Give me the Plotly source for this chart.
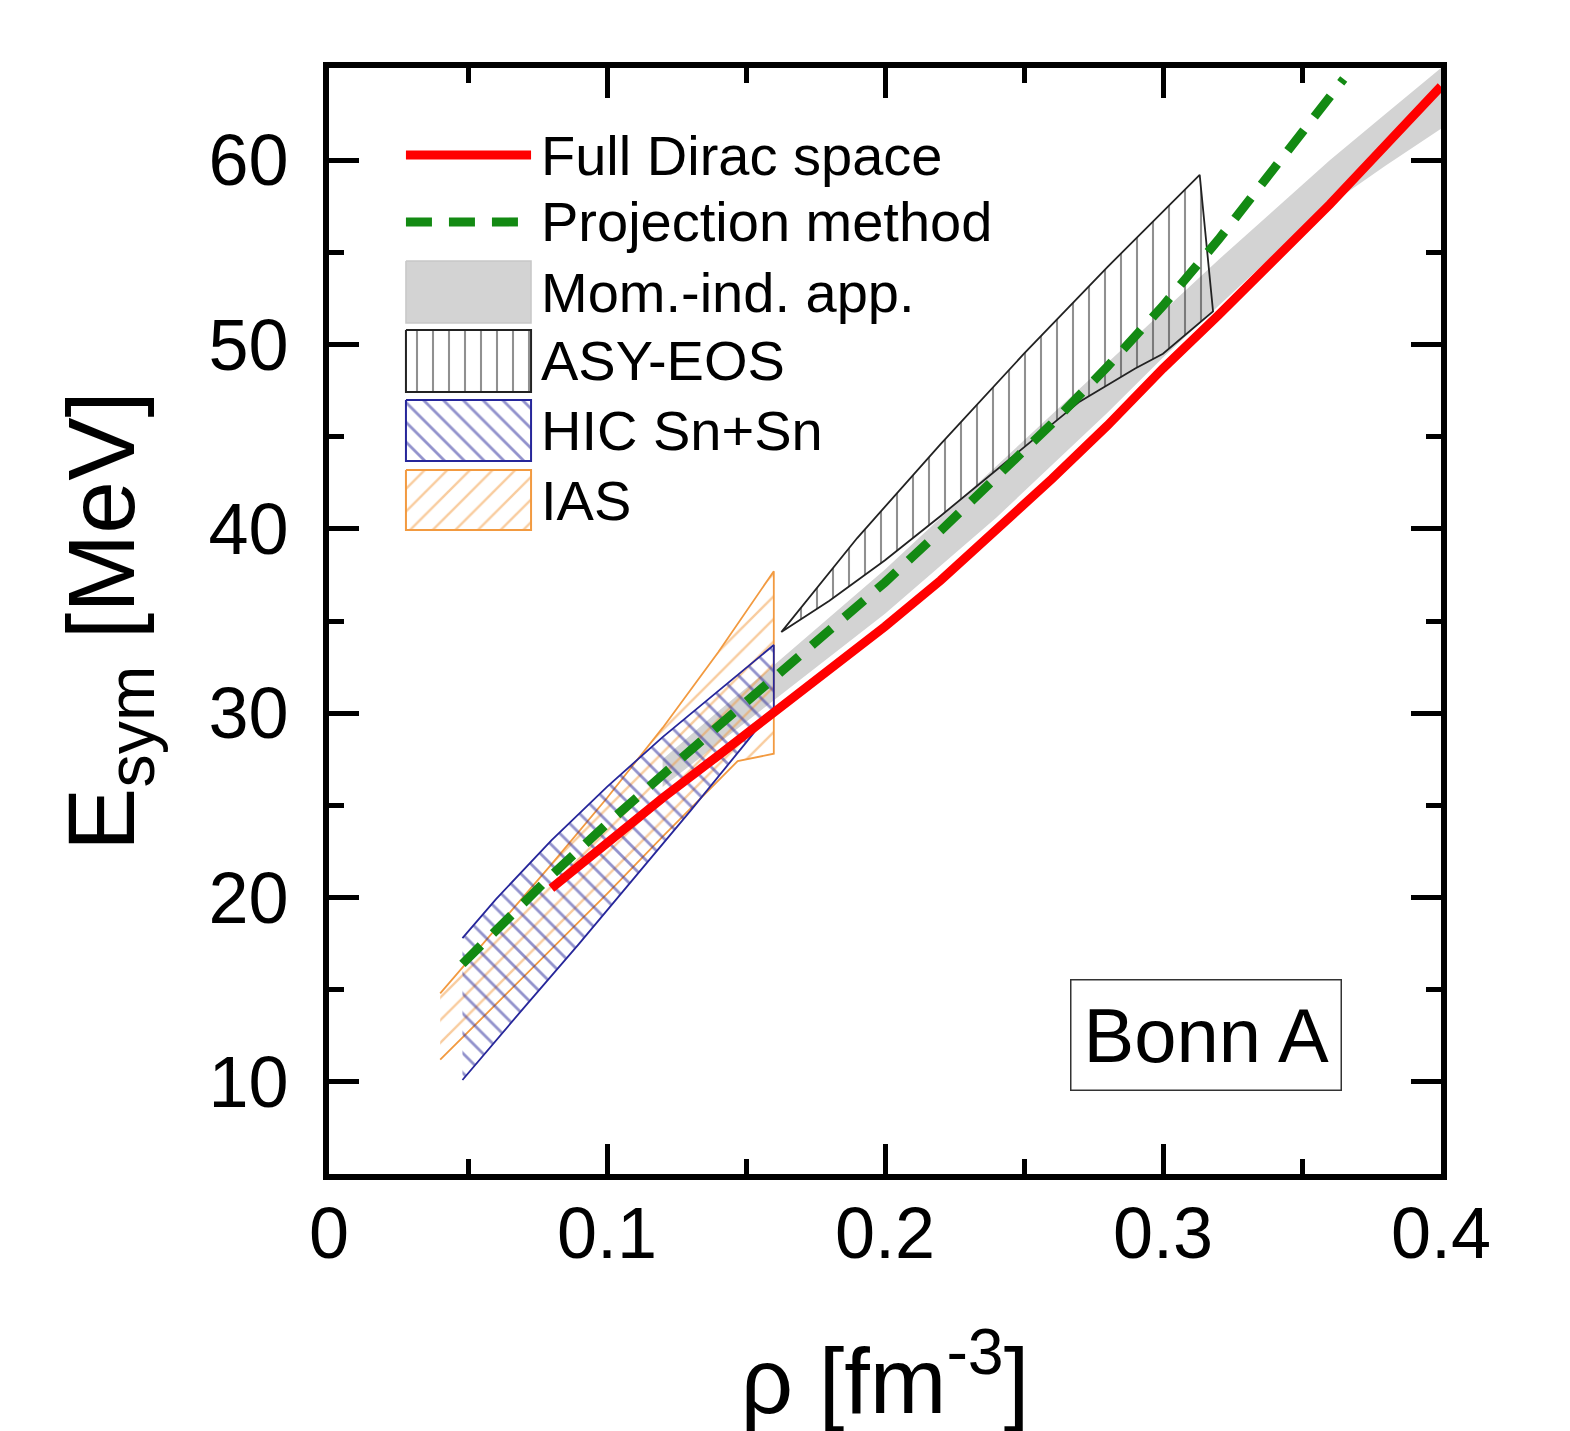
import plotly.graph_objects as go

FONT = "Liberation Sans, Arial, sans-serif"

# Full Dirac space (red solid)
rho_full = [0.08, 0.10, 0.12, 0.14, 0.16, 0.18, 0.20, 0.22, 0.24, 0.26, 0.28,
            0.30, 0.32, 0.34, 0.36, 0.38, 0.40]
esym_full = [20.5, 23.0, 25.4, 27.7, 30.0, 32.3, 34.7, 37.2, 39.9, 42.7, 45.6,
             48.7, 51.6, 54.6, 57.6, 60.8, 64.0]

# Projection method (green dashed)
rho_proj = [0.048, 0.06, 0.08, 0.10, 0.12, 0.14, 0.16, 0.18, 0.20, 0.22, 0.24,
            0.26, 0.28, 0.30, 0.32, 0.34, 0.36, 0.365]
esym_proj = [16.4, 18.2, 21.2, 24.0, 26.7, 29.3, 31.9, 34.5, 37.1, 39.9, 42.8,
             45.7, 48.8, 52.1, 55.7, 59.5, 63.4, 64.4]

# Mom.-ind. app. (grey band)
rho_mom = [0.12, 0.14, 0.16, 0.20, 0.24, 0.28, 0.30, 0.32, 0.34, 0.36, 0.38, 0.40]
mom_upper = [27.5, 30.1, 32.6, 37.8, 43.4, 49.0, 51.8, 54.6, 57.3, 60.0, 62.5, 65.0]
mom_lower = [26.0, 28.4, 30.7, 35.4, 40.6, 46.3, 49.3, 52.1, 54.9, 57.6, 59.7, 61.7]

# ASY-EOS constraint
asy_rho_up = [0.1627, 0.19, 0.22, 0.25, 0.28, 0.30, 0.3132]
asy_up = [34.4, 39.5, 44.6, 49.5, 54.2, 57.2, 59.2]
asy_rho_lo = [0.1627, 0.18, 0.20, 0.22, 0.245, 0.27, 0.29, 0.30, 0.318]
asy_lo = [34.4, 36.1, 38.3, 40.7, 43.8, 46.9, 48.7, 49.5, 51.8]

# HIC Sn+Sn constraint
hic_rho_up = [0.048, 0.06, 0.08, 0.10, 0.12, 0.14, 0.16]
hic_up = [17.8, 19.9, 23.1, 26.0, 28.7, 31.2, 33.7]
hic_rho_lo = [0.048, 0.07, 0.09, 0.11, 0.13, 0.15, 0.16]
hic_lo = [10.1, 14.0, 17.5, 21.1, 24.7, 28.4, 30.3]

# IAS constraint
ias_rho_up = [0.04, 0.06, 0.08, 0.10, 0.12, 0.14, 0.16]
ias_up = [14.8, 18.3, 21.8, 25.4, 29.2, 33.3, 37.7]
ias_rho_lo = [0.04, 0.06, 0.08, 0.10, 0.12, 0.147, 0.16]
ias_lo = [11.2, 14.2, 17.2, 20.2, 23.3, 27.4, 27.8]

x_ticks = [0, 0.1, 0.2, 0.3, 0.4]
x_ticktext = ["0", "0.1", "0.2", "0.3", "0.4"]
y_ticks = [10, 20, 30, 40, 50, 60]

RED = "#ff0000"
GREEN = "#138a13"
GREY = "#d3d3d3"
BLACK = "#222222"
BLUE = "#26269a"
ORANGE = "#f29a40"
DASH = "26px,17px"


def band(xu, yu, xl, yl):
    # closed polygon: upper edge forward, lower edge back
    return list(xu) + list(xl)[::-1], list(yu) + list(yl)[::-1]


def hatch(shape, color, size=16, solidity=0.1):
    return dict(shape=shape, size=size, solidity=solidity, fgcolor=color,
                bgcolor="rgba(0,0,0,0)")


PATTERNS = {
    "asy": hatch("|", BLACK, 16, 0.13),
    "hic": hatch("\\", BLUE, 14, 0.2),
    "ias": hatch("/", ORANGE, 16, 0.15),
}

fig = go.Figure()

x, y = band(rho_mom, mom_upper, rho_mom, mom_lower)
fig.add_trace(go.Scatter(x=x, y=y, fill="toself", fillcolor=GREY, mode="lines",
                         line=dict(width=0), hoverinfo="skip", showlegend=False))

x, y = band(ias_rho_up, ias_up, ias_rho_lo, ias_lo)
fig.add_trace(go.Scatter(x=x, y=y, fill="toself", fillpattern=PATTERNS["ias"],
                         mode="lines", line=dict(color=ORANGE, width=1.8),
                         hoverinfo="skip", showlegend=False))

x, y = band(hic_rho_up, hic_up, hic_rho_lo, hic_lo)
fig.add_trace(go.Scatter(x=x, y=y, fill="toself", fillpattern=PATTERNS["hic"],
                         mode="lines", line=dict(color=BLUE, width=1.8),
                         hoverinfo="skip", showlegend=False))

x, y = band(asy_rho_up, asy_up, asy_rho_lo, asy_lo)
fig.add_trace(go.Scatter(x=x, y=y, fill="toself", fillpattern=PATTERNS["asy"],
                         mode="lines", line=dict(color=BLACK, width=1.8),
                         hoverinfo="skip", showlegend=False))

fig.add_trace(go.Scatter(x=rho_proj, y=esym_proj, mode="lines",
                         line=dict(color=GREEN, width=9, dash=DASH),
                         showlegend=False))
fig.add_trace(go.Scatter(x=rho_full, y=esym_full, mode="lines",
                         line=dict(color=RED, width=9), showlegend=False))

# hand-made legend on an overlay axis in paper units
LX0, LX1 = 0.0692, 0.1817
TX = 0.1890
legend_rows = [
    ("line", RED, "solid", 0.9213, None, "Full Dirac space"),
    ("line", GREEN, DASH, 0.8608, None, "Projection method"),
    ("box", GREY, None, 0.8255, 0.7694, "Mom.-ind. app."),
    ("box", BLACK, "asy", 0.7631, 0.7071, "ASY-EOS"),
    ("box", BLUE, "hic", 0.6998, 0.6447, "HIC Sn+Sn"),
    ("box", ORANGE, "ias", 0.6365, 0.5823, "IAS"),
]
for kind, col, sty, ya, yb, label in legend_rows:
    if kind == "line":
        fig.add_trace(go.Scatter(x=[LX0, LX1], y=[ya, ya], xaxis="x2", yaxis="y2",
                                 mode="lines", line=dict(color=col, width=9, dash=sty),
                                 hoverinfo="skip", showlegend=False))
        ty = ya
    else:
        bx = [LX0, LX1, LX1, LX0, LX0]
        by = [ya, ya, yb, yb, ya]
        if sty is None:
            fig.add_trace(go.Scatter(x=bx, y=by, xaxis="x2", yaxis="y2", fill="toself",
                                     fillcolor=col, mode="lines",
                                     line=dict(color="#c8c8c8", width=1.5),
                                     hoverinfo="skip", showlegend=False))
        else:
            fig.add_trace(go.Scatter(x=bx, y=by, xaxis="x2", yaxis="y2", fill="toself",
                                     fillpattern=PATTERNS[sty], mode="lines",
                                     line=dict(color=col, width=2),
                                     hoverinfo="skip", showlegend=False))
        ty = (ya + yb) / 2
    fig.add_annotation(x=TX, y=ty, xref="paper", yref="paper", text=label,
                       showarrow=False, xanchor="left", yanchor="middle",
                       font=dict(family=FONT, size=56, color="black"))

fig.add_annotation(x=0.789, y=0.126, xref="paper", yref="paper", text="Bonn A",
                   showarrow=False, xanchor="center", yanchor="middle",
                   font=dict(family=FONT, size=76, color="black"),
                   bordercolor="#333333", borderwidth=1.5, borderpad=12,
                   bgcolor="white")

axis_common = dict(showgrid=False, zeroline=False, showline=True, linewidth=6,
                   linecolor="black", mirror="allticks", ticks="inside",
                   ticklen=30, tickwidth=5, tickcolor="black", automargin=False,
                   tickfont=dict(family=FONT, size=72, color="black"))

fig.update_layout(
    width=1570, height=1431,
    margin=dict(l=321, r=137, t=60, b=265),
    paper_bgcolor="white", plot_bgcolor="white",
    font=dict(family=FONT, color="black"),
    showlegend=False,
    xaxis=dict(range=[0, 0.4], tickvals=x_ticks, ticktext=x_ticktext,
               ticklabelstandoff=-8,
               minor=dict(dtick=0.05, ticks="inside", ticklen=15, tickwidth=5,
                          tickcolor="black"),
               title=dict(text="ρ [fm<sup>-3</sup>]", standoff=78,
                          font=dict(family=FONT, size=92, color="black")),
               **axis_common),
    yaxis=dict(range=[5, 65], tickvals=y_ticks, ticklabelstandoff=20,
               minor=dict(dtick=5, tick0=5, ticks="inside", ticklen=15, tickwidth=5,
                          tickcolor="black"),
               title=dict(text="E<sub>sym</sub> [MeV]", standoff=44,
                          font=dict(family=FONT, size=95, color="black")),
               **axis_common),
    xaxis2=dict(overlaying="x", range=[0, 1], visible=False, anchor="y2"),
    yaxis2=dict(overlaying="y", range=[0, 1], visible=False, anchor="x2"),
)

fig.write_html("out.html")
